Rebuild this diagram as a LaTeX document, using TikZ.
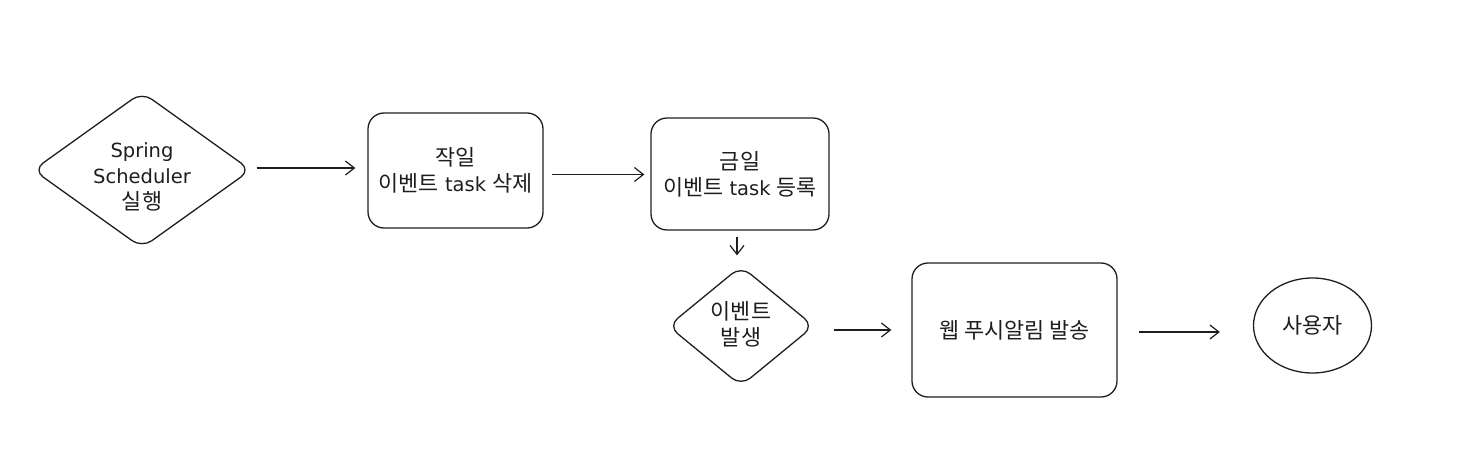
\documentclass[tikz,border=0pt]{standalone}
\usepackage{fontspec}
\setmainfont{DejaVu Sans}
\newfontfamily\kr[Scale=1.12]{Noto Sans CJK KR}
\usetikzlibrary{shapes.geometric,arrows.meta}
\definecolor{ink}{HTML}{1E1E1E}
\begin{document}
\begin{tikzpicture}[x=1pt,y=1pt,
  every node/.style={font=\fontsize{19.5}{26}\selectfont, text=ink},
  shp/.style={draw=ink, line width=1.3pt},
  rbox/.style={shp, rectangle, rounded corners=16pt, inner sep=0pt},
  dia/.style={shp, diamond, rounded corners=12pt, inner sep=0pt},
  arr/.style={draw=ink, line width=1.2pt, -{Straight Barb[length=9pt,width=14pt,line width=1.2pt]}},
  lbl/.style={align=center, text=ink, font=\fontsize{19.5}{26}\selectfont}
]
\useasboundingbox (0,0) rectangle (1471,475);
% nodes (y = 475 - pixel y)
\node[dia, minimum width=218pt, minimum height=156pt,
      label={[lbl, yshift=-7pt]center:Spring\\Scheduler\\{\kr 실행}}] (d1) at (142,305) {};
\node[rbox, minimum width=175pt, minimum height=115pt,
      label={[lbl]center:{\kr 작일}\\{\kr 이벤트} task {\kr 삭제}}] (b1) at (455.5,304.5) {};
\node[rbox, minimum width=178pt, minimum height=112pt,
      label={[lbl]center:{\kr 금일}\\{\kr 이벤트} task {\kr 등록}}] (b2) at (740,301) {};
\node[dia, minimum width=146pt, minimum height=120pt,
      label={[lbl, yshift=2pt]center:{\kr 이벤트}\\{\kr 발생}}] (d2) at (741,149) {};
\node[rbox, minimum width=205pt, minimum height=134pt,
      label={[lbl]center:{\kr 웹 푸시알림 발송}}] (b3) at (1014.5,145) {};
\node[shp, ellipse, minimum width=118pt, minimum height=95pt, inner sep=0pt,
      label={[lbl]center:{\kr 사용자}}] (u) at (1312.5,149.5) {};
% connectors
\draw[arr, shorten <=5pt, shorten >=12pt] ([yshift=2pt]d1.east) -- ([yshift=2pt]d1.east -| b1.west);
\draw[arr, shorten <=8pt, shorten >=6pt] ([yshift=-4pt]b1.east) -- ([yshift=-4pt]b1.east -| b2.west);
\draw[arr, shorten <=6pt, shorten >=10pt] ([xshift=-3pt]b2.south) -- ([xshift=-3pt]b2.south |- d2.north);
\draw[arr, shorten <=19pt, shorten >=20pt] (d2.east |- b3.west) -- (b3.west);
\draw[arr, shorten <=21pt, shorten >=33pt] ([yshift=-2pt]b3.east) -- ([yshift=-2pt]b3.east -| u.west);
\end{tikzpicture}
\end{document}
